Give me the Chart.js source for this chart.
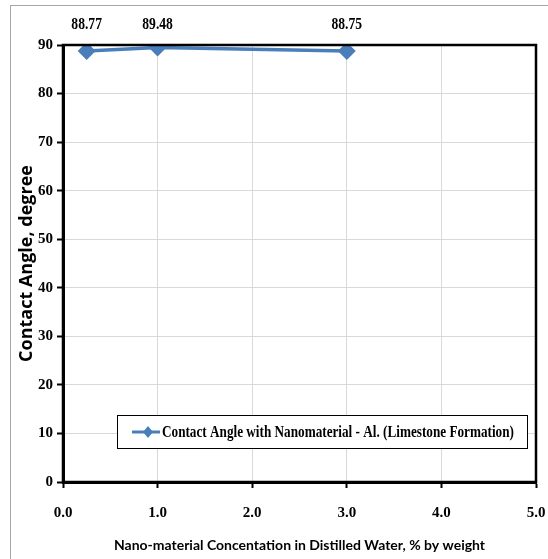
<!DOCTYPE html>
<html>
<head>
<meta charset="utf-8">
<script src="https://cdn.jsdelivr.net/npm/chart.js@4"></script>
<style>
  html, body { margin: 0; padding: 0; background: #fff; }
  #wrap { position: relative; width: 548px; height: 559px; overflow: hidden; }
  #frame { position: absolute; left: 10px; top: 5px; width: 600px; height: 600px; border: 1.5px solid #a6a6a6; }
  #c { position: absolute; left: 0; top: 0; }
</style>
</head>
<body>
<div id="wrap">
  <div id="frame"></div>
  <canvas id="c" width="548" height="559"></canvas>
</div>
<script>
// data
const concentration = [0.25, 1.0, 3.0];
const contactAngle = [88.77, 89.48, 88.75];
const seriesName = "Contact Angle with Nanomaterial - Al. (Limestone Formation)";
const xTitle = "Nano-material Concentation in Distilled Water, % by weight";
const yTitle = "Contact Angle, degree";

const lineColor = "#4a7ebb";
const serif = "'Liberation Serif', 'Times New Roman', serif";

// box round the plot area, data labels and the legend inside the plot
const extras = {
    id: "extras",
    afterDraw(chart) {
        const ctx = chart.ctx;
        const a = chart.chartArea;
        ctx.save();
        ctx.strokeStyle = "#000";
        ctx.lineWidth = 2.5;
        ctx.strokeRect(a.left, a.top, a.right - a.left, a.bottom - a.top);

        // value labels
        const meta = chart.getDatasetMeta(0);
        ctx.fillStyle = "#000";
        ctx.font = "bold 16px " + serif;
        ctx.textAlign = "center";
        ctx.textBaseline = "middle";
        meta.data.forEach(function (pt, i) {
            ctx.save();
            ctx.translate(pt.x, 25);
            ctx.scale(0.85, 1);
            ctx.fillText(contactAngle[i].toFixed(2), 0, 0);
            ctx.restore();
        });

        // legend
        ctx.fillStyle = "#fff";
        ctx.fillRect(117, 415, 410, 33);
        ctx.strokeStyle = "#000";
        ctx.lineWidth = 1;
        ctx.strokeRect(117.5, 415.5, 410, 33);
        ctx.strokeStyle = lineColor;
        ctx.lineWidth = 3;
        ctx.beginPath();
        ctx.moveTo(132, 432);
        ctx.lineTo(160, 432);
        ctx.stroke();
        ctx.fillStyle = lineColor;
        ctx.beginPath();
        ctx.moveTo(148, 426);
        ctx.lineTo(153, 432);
        ctx.lineTo(148, 438);
        ctx.lineTo(143, 432);
        ctx.closePath();
        ctx.fill();
        ctx.fillStyle = "#000";
        ctx.font = "bold 16px " + serif;
        ctx.textAlign = "left";
        ctx.translate(162, 433);
        ctx.scale(0.825, 1);
        ctx.fillText(seriesName, 0, 0);
        ctx.restore();
    }
};

new Chart(document.getElementById("c").getContext("2d"), {
    type: "line",
    data: {
        datasets: [{
            label: seriesName,
            data: concentration.map(function (x, i) { return { x: x, y: contactAngle[i] }; }),
            borderColor: lineColor,
            backgroundColor: lineColor,
            borderWidth: 3.5,
            pointStyle: "rectRot",
            pointRadius: 6.5,
            pointHoverRadius: 6.5,
            tension: 0
        }]
    },
    options: {
        responsive: false,
        animation: false,
        events: [],
        layout: { padding: { left: 0, top: 45, right: 12, bottom: 0 } },
        plugins: {
            legend: { display: false },
            tooltip: { enabled: false }
        },
        scales: {
            x: {
                type: "linear",
                min: 0,
                max: 5,
                afterFit: function (s) {
                    s.height = 77;
                    s.paddingLeft = 0;
                    s.paddingRight = 0;
                },
                ticks: {
                    stepSize: 1,
                    padding: 16,
                    color: "#000",
                    font: { family: serif, size: 15, weight: "bold" },
                    callback: function (v) { return v.toFixed(1); }
                },
                grid: { color: "#d9d9d9", tickColor: "#000", tickLength: 6, tickWidth: 2 },
                border: { color: "#000", width: 3 },
                title: {
                    display: true,
                    text: xTitle,
                    color: "#000",
                    font: { family: "Lato, 'Open Sans', sans-serif", size: 14, weight: "bold" },
                    padding: { top: 5, bottom: 5 }
                }
            },
            y: {
                min: 0,
                max: 90,
                afterFit: function (s) { s.width = 63; },
                ticks: {
                    stepSize: 10,
                    padding: 4,
                    color: "#000",
                    font: { family: serif, size: 15, weight: "bold" }
                },
                grid: { color: "#d9d9d9", tickColor: "#000", tickLength: 6, tickWidth: 2 },
                border: { color: "#000", width: 3 },
                title: {
                    display: true,
                    text: yTitle,
                    color: "#000",
                    font: { family: "'Open Sans', Lato, sans-serif", size: 18, weight: "bold" },
                    padding: { top: 16, bottom: 0 }
                }
            }
        }
    },
    plugins: [extras]
});
</script>
</body>
</html>
